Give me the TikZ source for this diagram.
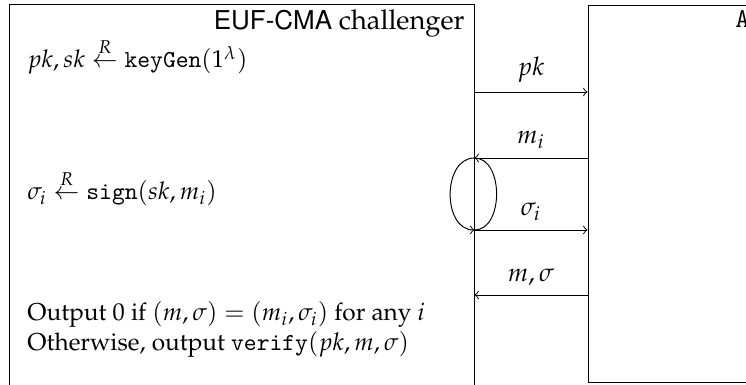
\documentclass[tikz,border=0pt]{standalone}
\usepackage{fontspec}
\usepackage[OT1]{fontenc}
\usepackage{amsmath}
\usepackage{mathpazo}
\usepackage[scaled=0.95]{helvet}
\newfontfamily\codefont{Latin Modern Mono}
\newcommand{\code}[1]{\text{\codefont #1}}
\usetikzlibrary{fit}
\tikzstyle{party} = [rectangle, draw=black, inner sep=0pt]
\tikzstyle{partyname} = [inner sep=0pt, font=\fontsize{11.2}{13}\selectfont]
\tikzstyle{stmt} = [anchor=base west, inner sep=0pt]
\tikzstyle{msg} = [->]
\tikzstyle{msglabel} = [above=0.3pt, font=\fontsize{10.5}{12}\selectfont]

\begin{document}
\begin{tikzpicture}[x=0.41pt, y=-0.41pt]
        \useasboundingbox (0,0) rectangle (746,385);
        \clip (0,0) rectangle (746,385);

        % Parties
        \node (chal) [party, fit={(9,4) (474,400)}] {};
        \node (adv) [party, fit={(588,5) (800,382)}] {};
        \node (chalname) [partyname, anchor=base east] at (465,30) {\textsf{EUF-CMA} challenger};
        \node (advname) [partyname, anchor=base west] at (735,28) {\code{A}};

        % Challenger steps
        \node (keygen) [stmt] at (27,68) {$pk, sk \stackrel{R}{\leftarrow} \code{keyGen}(1^\lambda)$};
        \node (sign) [stmt] at (27,200) {$\sigma_i \stackrel{R}{\leftarrow} \code{sign}(sk, m_i)$};
        \node (check) [stmt] at (27,321) {Output 0 if $(m,\sigma) = (m_i,\sigma_i)$ for any $i$};
        \node (out) [stmt] at (27,351) {Otherwise, output $\code{verify}(pk, m, \sigma)$};

        % Messages
        \draw [msg] (chal.east |- 0,92) -- node[msglabel] {$pk$} (adv.west |- 0,92);
        \draw [msg] (adv.west |- 0,158) -- node[msglabel] {$m_i$} (chal.east |- 0,158);
        \draw [msg] (chal.east |- 0,230) -- node[msglabel] {$\sigma_i$} (adv.west |- 0,230);
        \draw [msg] (adv.west |- 0,295) -- node[msglabel] {$m, \sigma$} (chal.east |- 0,295);

        % Signing loop
        \coordinate (looptop) at (chal.east |- 0,158);
        \coordinate (loopbot) at (chal.east |- 0,230);
        \draw (looptop) to[out=0, in=0, looseness=1.05] (loopbot);
        \draw [msg] (looptop) to[out=180, in=180, looseness=1.15] (loopbot);
    \end{tikzpicture}
\end{document}
